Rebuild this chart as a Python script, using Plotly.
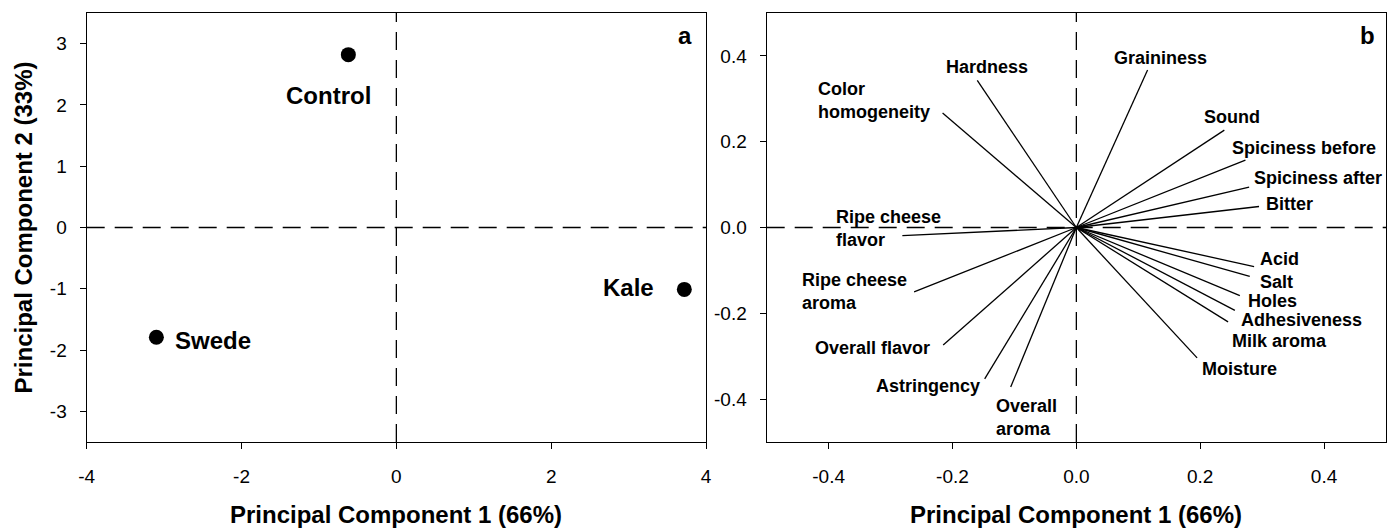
import plotly.graph_objects as go

# ---------------- data ----------------
# Panel a: PCA scores
score_names = ["Control", "Swede", "Kale"]
score_pc1 = [-0.62, -3.10, 3.72]
score_pc2 = [2.82, -1.79, -1.01]

# Panel b: PCA loadings
attr_names = ["Hardness", "Color<br>homogeneity", "Ripe cheese<br>flavor", "Ripe cheese<br>aroma",
              "Overall flavor", "Astringency", "Overall<br>aroma", "Graininess", "Sound",
              "Spiciness before", "Spiciness after", "Bitter", "Acid", "Salt", "Holes",
              "Adhesiveness", "Milk aroma", "Moisture"]
load_pc1 = [-0.160, -0.216, -0.281, -0.262, -0.215, -0.148, -0.106, 0.115, 0.239,
            0.273, 0.279, 0.295, 0.287, 0.280, 0.264, 0.256, 0.245, 0.195]
load_pc2 = [0.343, 0.267, -0.019, -0.150, -0.274, -0.353, -0.372, 0.367, 0.227,
            0.157, 0.094, 0.049, -0.091, -0.114, -0.159, -0.193, -0.220, -0.304]

x1_ticks = [-4, -2, 0, 2, 4]
x1_text = ["-4", "-2", "0", "2", "4"]
y1_ticks = [-3, -2, -1, 0, 1, 2, 3]
y1_text = ["-3", "-2", "-1", "0", "1", "2", "3"]
x2_ticks = [-0.4, -0.2, 0.0, 0.2, 0.4]
x2_text = ["-0.4", "-0.2", "0.0", "0.2", "0.4"]
y2_ticks = [-0.4, -0.2, 0.0, 0.2, 0.4]
y2_text = ["-0.4", "-0.2", "0.0", "0.2", "0.4"]

# ---------------- label placement (layout only) ----------------
score_label_place = {  # xanchor, xshift, yshift
    "Control": ("center", -20, -41),
    "Swede": ("left", 17, -3),
    "Kale": ("right", -28, 2),
}
attr_label_place = {  # x, y, xanchor
    "Hardness": (-0.144, 0.374, "center"),
    "Color<br>homogeneity": (-0.420, 0.295, "left"),
    "Ripe cheese<br>flavor": (-0.391, -0.003, "left"),
    "Ripe cheese<br>aroma": (-0.446, -0.149, "left"),
    "Overall flavor": (-0.329, -0.280, "center"),
    "Astringency": (-0.240, -0.370, "center"),
    "Overall<br>aroma": (-0.133, -0.442, "left"),
    "Graininess": (0.136, 0.394, "center"),
    "Sound": (0.252, 0.258, "center"),
    "Spiciness before": (0.248, 0.185, "left"),
    "Spiciness after": (0.284, 0.116, "left"),
    "Bitter": (0.303, 0.054, "left"),
    "Acid": (0.293, -0.074, "left"),
    "Salt": (0.293, -0.126, "left"),
    "Holes": (0.274, -0.172, "left"),
    "Adhesiveness": (0.262, -0.215, "left"),
    "Milk aroma": (0.248, -0.265, "left"),
    "Moisture": (0.199, -0.329, "left"),
}

FONT = "Arial, 'Liberation Sans', sans-serif"
OFF = 8  # page body margin
W, H = 1399 - OFF, 528 - OFF

def px_x(p):
    return (p - OFF) / W

def px_y(p):
    return 1 - (p - OFF) / H

fig = go.Figure()

# Panel a scores
fig.add_trace(go.Scatter(x=score_pc1, y=score_pc2, mode="markers",
                         marker=dict(size=15, color="black"),
                         xaxis="x", yaxis="y", showlegend=False, hoverinfo="text",
                         text=score_names))

# Panel b loading vectors
lx, ly = [], []
for a, b in zip(load_pc1, load_pc2):
    lx += [0, a, None]
    ly += [0, b, None]
fig.add_trace(go.Scatter(x=lx, y=ly, mode="lines", line=dict(color="black", width=1.3),
                         xaxis="x2", yaxis="y2", showlegend=False, hoverinfo="skip"))

annotations = []
for name, sx, sy in zip(score_names, score_pc1, score_pc2):
    xa, xs, ys = score_label_place[name]
    annotations.append(dict(x=sx, y=sy, xref="x", yref="y", text=f"<b>{name}</b>",
                            showarrow=False, xanchor=xa, yanchor="middle",
                            xshift=xs, yshift=ys,
                            font=dict(family=FONT, size=24, color="black")))
for name in attr_names:
    ax, ay, xa = attr_label_place[name]
    annotations.append(dict(x=ax, y=ay, xref="x2", yref="y2", text=f"<b>{name}</b>",
                            showarrow=False, xanchor=xa, yanchor="middle", align="left",
                            font=dict(family=FONT, size=18, color="black")))

# panel letters
annotations.append(dict(x=px_x(685), y=px_y(35.7), xref="paper", yref="paper", text="<b>a</b>",
                        showarrow=False, xanchor="center", yanchor="middle",
                        font=dict(family=FONT, size=24, color="black")))
annotations.append(dict(x=px_x(1367), y=px_y(35.7), xref="paper", yref="paper", text="<b>b</b>",
                        showarrow=False, xanchor="center", yanchor="middle",
                        font=dict(family=FONT, size=24, color="black")))
# axis titles
for cx in (396, 1076):
    annotations.append(dict(x=px_x(cx), y=px_y(514), xref="paper", yref="paper",
                            text="<b>Principal Component 1 (66%)</b>", showarrow=False,
                            xanchor="center", yanchor="middle",
                            font=dict(family=FONT, size=24, color="black")))
annotations.append(dict(x=px_x(23), y=px_y(227.5), xref="paper", yref="paper",
                        text="<b>Principal Component 2 (33%)</b>", showarrow=False, textangle=-90,
                        xanchor="center", yanchor="middle",
                        font=dict(family=FONT, size=24, color="black")))

# dashed zero lines
dash = "18px,10px"
shapes = [
    dict(type="line", xref="x domain", yref="y", x0=0, x1=1, y0=0, y1=0,
         line=dict(color="black", width=1.3, dash=dash)),
    dict(type="line", xref="x", yref="y domain", x0=0, x1=0, y0=0, y1=1,
         line=dict(color="black", width=1.3, dash=dash)),
    dict(type="line", xref="x2 domain", yref="y2", x0=0, x1=1, y0=0, y1=0,
         line=dict(color="black", width=1.3, dash=dash)),
    dict(type="line", xref="x2", yref="y2 domain", x0=0, x1=0, y0=0, y1=1,
         line=dict(color="black", width=1.3, dash=dash)),
]

ydom = [px_y(442), px_y(13)]
common = dict(showgrid=False, zeroline=False, showline=True, linecolor="black", linewidth=1.3,
              mirror=True, ticks="outside", ticklen=6, tickcolor="black", tickwidth=1.3,
              automargin=False, tickmode="array",
              tickfont=dict(family=FONT, size=19, color="black"))

fig.update_layout(
    width=W, height=H, margin=dict(l=0, r=0, t=0, b=0, pad=0), autosize=False,
    paper_bgcolor="white", plot_bgcolor="white",
    xaxis=dict(domain=[px_x(86.7), px_x(706)], range=[-4, 4], tickvals=x1_ticks,
               ticktext=x1_text, ticklabelstandoff=11, anchor="y", **common),
    yaxis=dict(domain=ydom, range=[-3.5, 3.5], tickvals=y1_ticks, ticktext=y1_text,
               ticklabelstandoff=9, anchor="x", **common),
    xaxis2=dict(domain=[px_x(766.7), px_x(1386)], range=[-0.5, 0.5], tickvals=x2_ticks,
                ticktext=x2_text, ticklabelstandoff=11, anchor="y2", **common),
    yaxis2=dict(domain=ydom, range=[-0.5, 0.5], tickvals=y2_ticks, ticktext=y2_text,
                ticklabelstandoff=9, anchor="x2", **common),
    annotations=annotations, shapes=shapes,
)

fig.write_html("out.html")
